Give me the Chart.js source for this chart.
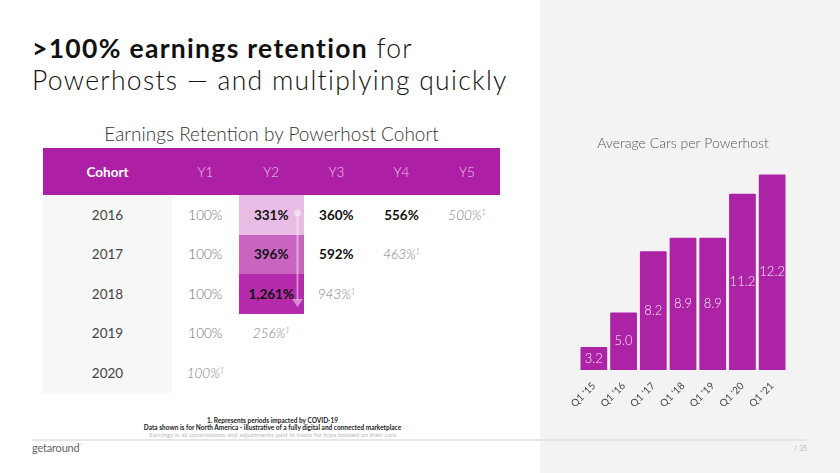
<!DOCTYPE html>
<html>
<head>
<meta charset="utf-8">
<script src="https://cdn.jsdelivr.net/npm/chart.js@4.4.0/dist/chart.umd.min.js"></script>
<style>
  body { margin: 0; width: 840px; height: 473px; position: relative; overflow: hidden; background: #fff; font-family: Lato, sans-serif; color: #222; }
  #panel { position: absolute; left: 540px; top: 0; width: 300px; height: 473px; background: #f3f3f3; }
  .h1 { position: absolute; left: 32px; margin: 0; font-size: 26.5px; font-weight: 300; line-height: 32px; height: 32px; letter-spacing: 1.3px; color: #111; white-space: nowrap; }
  .h1 b { font-weight: 700; }
  #h1a { top: 31.7px; }
  #h1b { top: 63.7px; }
  #sub { position: absolute; left: 43px; width: 457px; top: 122px; text-align: center; font-size: 19px; font-weight: 300; color: #333; }
  #tbl { position: absolute; left: 43px; top: 148px; border-collapse: collapse; table-layout: fixed; }
  #tbl th { height: 47px; background: #ad1fa5; color: rgba(255,255,255,0.75); font-weight: 300; font-size: 13.5px; padding: 0; text-align: center; }
  #tbl th.c0 { color: #fff; font-weight: 700; }
  #tbl td { height: 39.5px; padding: 0; text-align: center; font-size: 13.5px; }
  #tbl td.c0 { background: #f7f7f7; color: #444; font-weight: 400; }
  td.first { color: #707070; font-weight: 300; }
  td.mid { color: #111; font-weight: 700; }
  td.covid { color: #808080; font-style: italic; font-weight: 300; }
  td.covid sup { font-size: 7px; }
  #arrow { position: absolute; left: 290px; top: 208px; }
  #notes { position: absolute; left: 0; width: 545px; top: 417px; text-align: center; font-size: 6.5px; line-height: 7px; }
  #notes .n1, #notes .n2 { color: #222; font-weight: 700; }
  #notes .n3 { color: #bbb; }
  #rule { position: absolute; left: 32px; top: 438.5px; width: 775px; height: 2px; background: #e6e6e6; }
  #logo { position: absolute; left: 32px; top: 441px; font-size: 11px; color: #666; letter-spacing: -0.2px; }
  #page { position: absolute; right: 33px; top: 444px; font-size: 7px; color: #bbb; }
  #chartBox { position: absolute; left: 548px; top: 120px; width: 270px; height: 290px; }
</style>
</head>
<body>
<div id="panel"></div>
<div class="h1" id="h1a"><b>&gt;100% earnings retention</b> for</div>
<div class="h1" id="h1b">Powerhosts — and multiplying quickly</div>
<div id="sub">Earnings Retention by Powerhost Cohort</div>
<table id="tbl"></table>
<svg id="arrow" width="16" height="104">
  <line x1="7.5" y1="5" x2="7.5" y2="92" stroke="rgba(255,255,255,0.45)" stroke-width="2"/>
  <circle cx="7.5" cy="5" r="3.5" fill="rgba(255,255,255,0.45)"/>
  <polygon points="2,91 13,91 7.5,99" fill="rgba(255,255,255,0.45)"/>
</svg>
<div id="notes">
  <div class="n1">1. Represents periods impacted by COVID-19</div>
  <div class="n2">Data shown is for North America - illustrative of a fully digital and connected marketplace</div>
  <div class="n3">Earnings is all commissions and adjustments paid to hosts for trips booked on their cars</div>
</div>
<div id="rule"></div>
<div id="logo">getaround<sup style="font-size:4px">*</sup></div>
<div id="page">/ 35</div>
<div id="chartBox"><canvas id="carsChart"></canvas></div>

<script>
// Tabela de retenção
const cohorts = ['2016', '2017', '2018', '2019', '2020'];
const yearCols = ['Y1', 'Y2', 'Y3', 'Y4', 'Y5'];
const retention2016 = ['100%', '331%', '360%', '556%', '500%'];
const retention2017 = ['100%', '396%', '592%', '463%'];
const retention2018 = ['100%', '1,261%', '943%'];
const retention2019 = ['100%', '256%'];
const retention2020 = ['100%'];
const retentionRows = [retention2016, retention2017, retention2018, retention2019, retention2020];
const y2Shades = ['#e8bce4', '#c964c1', '#b52bab'];

// Gráfico de carros
const quarters = ["Q1 '15", "Q1 '16", "Q1 '17", "Q1 '18", "Q1 '19", "Q1 '20", "Q1 '21"];
const avgCars = [3.2, 5.0, 8.2, 8.9, 8.9, 11.2, 12.2];

const colWidths = [129, 66.7, 65, 65.3, 65, 66];

function buildTable() {
    const tbl = document.getElementById('tbl');
    let html = '<colgroup>' + colWidths.map(w => `<col style="width:${w}px">`).join('') + '</colgroup>';
    html += '<tr><th class="c0">Cohort</th>' + yearCols.map(y => `<th>${y}</th>`).join('') + '</tr>';
    cohorts.forEach((c, r) => {
        const row = retentionRows[r];
        html += `<tr><td class="c0">${c}</td>`;
        for (let i = 0; i < yearCols.length; i++) {
            if (i >= row.length) { html += '<td></td>'; continue; }
            // último valor de cada linha = período afetado pela COVID
            let cls = i === row.length - 1 ? 'covid' : (i === 0 ? 'first' : 'mid');
            let bg = (i === 1 && r < y2Shades.length) ? ` style="background:${y2Shades[r]}"` : '';
            let txt = cls === 'covid' ? `${row[i]}<sup>1</sup>` : row[i];
            html += `<td class="${cls}"${bg}>${txt}</td>`;
        }
        html += '</tr>';
    });
    tbl.innerHTML = html;
}

// Rótulos no meio das barras
const barValueLabels = {
    id: 'barValueLabels',
    afterDatasetsDraw(chart) {
        const ctx = chart.ctx;
        const meta = chart.getDatasetMeta(0);
        const bottom = chart.chartArea.bottom;
        ctx.save();
        ctx.fillStyle = 'rgba(255,255,255,0.9)';
        ctx.font = '300 13px Lato';
        ctx.textAlign = 'center';
        ctx.textBaseline = 'middle';
        meta.data.forEach((bar, i) => {
            const v = chart.data.datasets[0].data[i];
            ctx.fillText(v.toFixed(1), bar.x, (bar.y + Math.min(bar.base, bottom)) / 2);
        });
        ctx.restore();
    }
};

function initChart() {
    new Chart(document.getElementById('carsChart'), {
        type: 'bar',
        data: {
            labels: quarters,
            datasets: [{
                data: avgCars,
                backgroundColor: '#ad23a5',
                borderRadius: 1,
                barPercentage: 0.9,
                categoryPercentage: 1.0
            }]
        },
        plugins: [barValueLabels],
        options: {
            responsive: true,
            maintainAspectRatio: false,
            animation: false,
            layout: { padding: { left: 31, right: 31, bottom: 0 } },
            plugins: {
                legend: { display: false },
                tooltip: { enabled: false },
                title: {
                    display: true,
                    text: 'Average Cars per Powerhost',
                    color: '#555',
                    font: { family: 'Lato', size: 14, weight: '300' },
                    padding: { top: 14.6, bottom: 7.8 }
                }
            },
            scales: {
                y: { display: false, min: 2, max: 13 },
                x: {
                    grid: { display: false },
                    border: { display: false },
                    afterFit: (scale) => { scale.height = 40; },
                    ticks: {
                        color: '#444',
                        maxRotation: 45,
                        minRotation: 45,
                        padding: 2,
                        font: { family: 'Lato', size: 10 }
                    }
                }
            }
        }
    });
}

buildTable();
initChart();
</script>
</body>
</html>
